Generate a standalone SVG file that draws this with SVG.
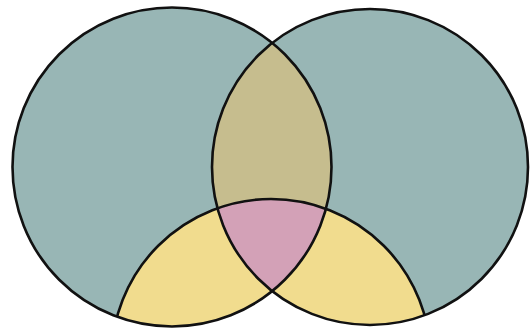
<svg xmlns="http://www.w3.org/2000/svg" width="532" height="332" viewBox="0 0 532 332">
<style>
.teal{fill:#98b6b5}
.lens{fill:#c6bd8e}
.yel{fill:#f1dc8e}
.pink{fill:#d3a1b7}
.ln{fill:none;stroke:#111;stroke-width:2.6}
</style>
<defs>
<clipPath id="cL"><circle cx="172" cy="167" r="159.5"/></clipPath>
<clipPath id="cR"><circle cx="370" cy="167" r="158"/></clipPath>
<clipPath id="cU"><circle cx="172" cy="167" r="159.5"/><circle cx="370" cy="167" r="158"/></clipPath>
</defs>
<rect width="532" height="332" fill="#fff"/>
<g id="left-circle">
<circle class="teal" cx="172" cy="167" r="159.5"/>
</g>
<g id="right-circle">
<circle class="teal" cx="370" cy="167" r="158"/>
</g>
<g id="overlap-lr">
<circle class="lens" cx="370" cy="167" r="158" clip-path="url(#cL)"/>
</g>
<g id="bottom-circle">
<circle class="yel" cx="271" cy="358.5" r="159.5" clip-path="url(#cU)"/>
</g>
<g id="center-overlap" clip-path="url(#cL)">
<circle class="pink" cx="271" cy="358.5" r="159.5" clip-path="url(#cR)"/>
</g>
<g id="connectors">
<circle class="ln" cx="172" cy="167" r="159.5"/>
<circle class="ln" cx="370" cy="167" r="158"/>
<circle class="ln" cx="271" cy="358.5" r="159.5" clip-path="url(#cU)"/>
</g>
</svg>
